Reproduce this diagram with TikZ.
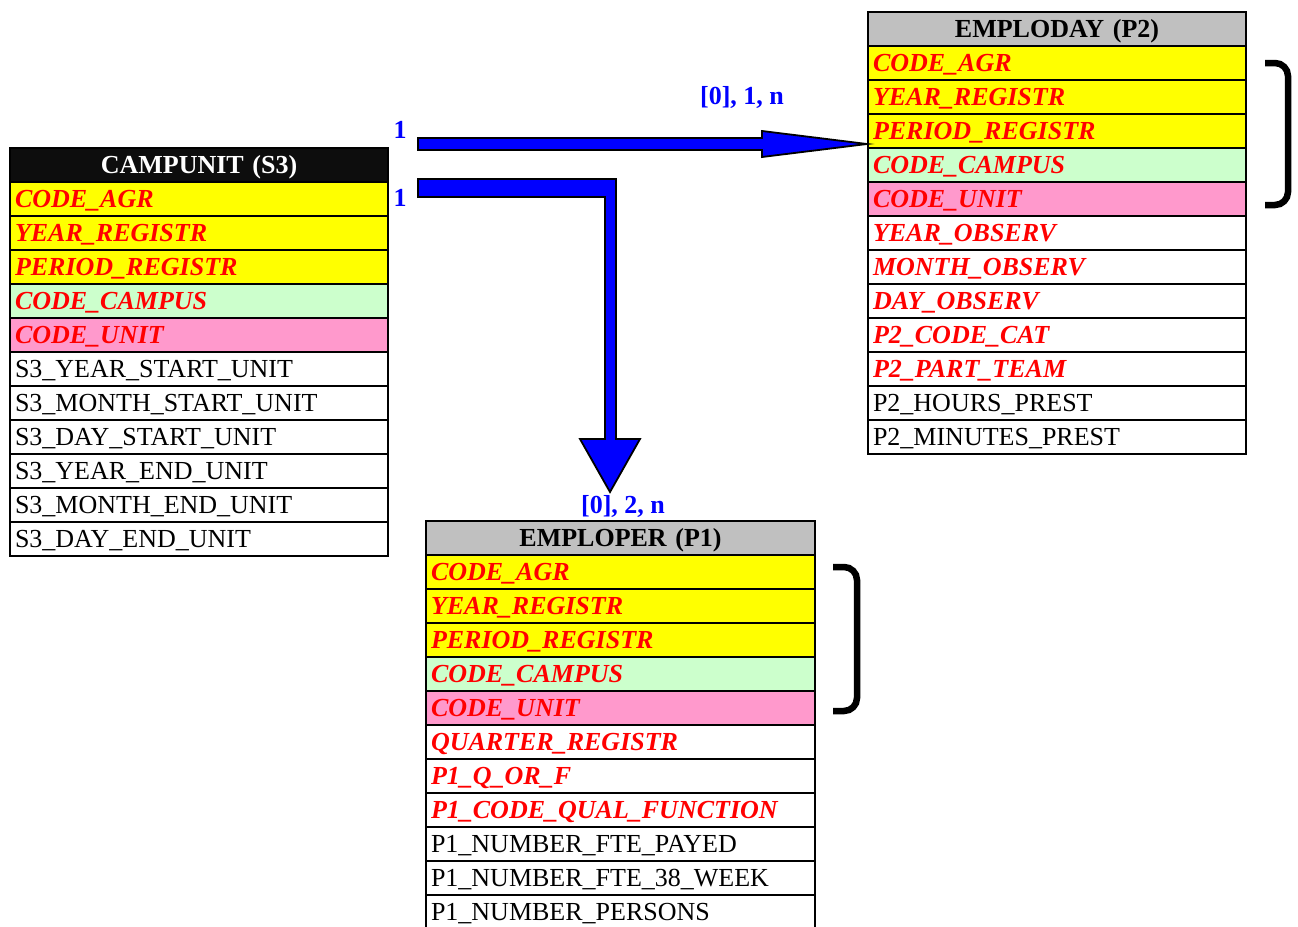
\documentclass[tikz,border=0pt]{standalone}
\usepackage{fontspec}
\setmainfont{Liberation Serif}
\definecolor{keyyellow}{HTML}{FFFF00}
\definecolor{keygreen}{HTML}{CCFFCC}
\definecolor{keypink}{HTML}{FF99CC}
\definecolor{headgray}{HTML}{C0C0C0}
\definecolor{headblack}{HTML}{0D0D0D}
\definecolor{keyred}{HTML}{FF0000}
\definecolor{linkblue}{HTML}{0000FF}
\tikzset{
  cell/.style={draw=black, line width=2.5pt, anchor=north west, inner xsep=5pt, inner ysep=0pt,
    outer sep=0pt, minimum height=34pt, text height=17pt, text depth=0pt, align=left,
    font=\fontsize{26}{30}\selectfont},
  w378/.style={text width=368pt},
  w389/.style={text width=379pt},
  keyrow/.style={cell, text=keyred, font=\fontsize{26}{30}\selectfont\bfseries\itshape},
  plainrow/.style={cell, fill=white, text=black},
  headrow/.style={cell, align=center, font=\fontsize{26}{30}\selectfont\bfseries},
  cardlabel/.style={text=linkblue, font=\fontsize{26}{30}\selectfont\bfseries, inner sep=0pt},
  blockarrow/.style={fill=linkblue, draw=black, line width=1.8pt, line join=miter},
  bracket/.style={draw=black, line width=6.5pt, rounded corners=13pt}
}
\begin{document}
\begin{tikzpicture}[x=1pt, y=-1pt]
\useasboundingbox (0,0) rectangle (1298,926);
\clip (0,0) rectangle (1298,926);
% CAMPUNIT (S3)
\node[headrow, w378, fill=headblack, text=white] (s3h) at (10,148) {CAMPUNIT (S3)};
\node[keyrow, w378, fill=keyyellow] (s3a) at (10,182) {CODE\_AGR};
\node[keyrow, w378, fill=keyyellow] (s3b) at (10,216) {YEAR\_REGISTR};
\node[keyrow, w378, fill=keyyellow] (s3c) at (10,250) {PERIOD\_REGISTR};
\node[keyrow, w378, fill=keygreen] (s3d) at (10,284) {CODE\_CAMPUS};
\node[keyrow, w378, fill=keypink] (s3e) at (10,318) {CODE\_UNIT};
\node[plainrow, w378] (s3f) at (10,352) {S3\_YEAR\_START\_UNIT};
\node[plainrow, w378] (s3g) at (10,386) {S3\_MONTH\_START\_UNIT};
\node[plainrow, w378] (s3i) at (10,420) {S3\_DAY\_START\_UNIT};
\node[plainrow, w378] (s3j) at (10,454) {S3\_YEAR\_END\_UNIT};
\node[plainrow, w378] (s3k) at (10,488) {S3\_MONTH\_END\_UNIT};
\node[plainrow, w378] (s3l) at (10,522) {S3\_DAY\_END\_UNIT};
% EMPLODAY (P2)
\node[headrow, w378, fill=headgray, text=black] (p2h) at (868,12) {EMPLODAY (P2)};
\node[keyrow, w378, fill=keyyellow] (p2a) at (868,46) {CODE\_AGR};
\node[keyrow, w378, fill=keyyellow] (p2b) at (868,80) {YEAR\_REGISTR};
\node[keyrow, w378, fill=keyyellow] (p2c) at (868,114) {PERIOD\_REGISTR};
\node[keyrow, w378, fill=keygreen] (p2d) at (868,148) {CODE\_CAMPUS};
\node[keyrow, w378, fill=keypink] (p2e) at (868,182) {CODE\_UNIT};
\node[keyrow, w378, fill=white] (p2f) at (868,216) {YEAR\_OBSERV};
\node[keyrow, w378, fill=white] (p2g) at (868,250) {MONTH\_OBSERV};
\node[keyrow, w378, fill=white] (p2i) at (868,284) {DAY\_OBSERV};
\node[keyrow, w378, fill=white] (p2j) at (868,318) {P2\_CODE\_CAT};
\node[keyrow, w378, fill=white] (p2k) at (868,352) {P2\_PART\_TEAM};
\node[plainrow, w378] (p2l) at (868,386) {P2\_HOURS\_PREST};
\node[plainrow, w378] (p2m) at (868,420) {P2\_MINUTES\_PREST};
% EMPLOPER (P1)
\node[headrow, w389, fill=headgray, text=black] (p1h) at (426,521) {EMPLOPER (P1)};
\node[keyrow, w389, fill=keyyellow] (p1a) at (426,555) {CODE\_AGR};
\node[keyrow, w389, fill=keyyellow] (p1b) at (426,589) {YEAR\_REGISTR};
\node[keyrow, w389, fill=keyyellow] (p1c) at (426,623) {PERIOD\_REGISTR};
\node[keyrow, w389, fill=keygreen] (p1d) at (426,657) {CODE\_CAMPUS};
\node[keyrow, w389, fill=keypink] (p1e) at (426,691) {CODE\_UNIT};
\node[keyrow, w389, fill=white] (p1f) at (426,725) {QUARTER\_REGISTR};
\node[keyrow, w389, fill=white] (p1g) at (426,759) {P1\_Q\_OR\_F};
\node[keyrow, w389, fill=white] (p1i) at (426,793) {P1\_CODE\_QUAL\_FUNCTION};
\node[plainrow, w389] (p1j) at (426,827) {P1\_NUMBER\_FTE\_PAYED};
\node[plainrow, w389] (p1k) at (426,861) {P1\_NUMBER\_FTE\_38\_WEEK};
\node[plainrow, w389] (p1l) at (426,895) {P1\_NUMBER\_PERSONS};
% block arrows
\coordinate (tipA) at (867,144);
\coordinate (tipB) at (610,492);
\draw[blockarrow] (418,138) -- (762,138) -- (762,131) -- (tipA) -- (762,157) -- (762,150) -- (418,150) -- cycle;
\draw[blockarrow] (418,179) -- (616,179) -- (616,439) -- (640,439) -- (tipB) -- (580,439) -- (605,439) -- (605,197) -- (418,197) -- cycle;
% cardinalities
\node[cardlabel] (l1) at (400,130) {1};
\node[cardlabel] (l2) at (400,198) {1};
\node[cardlabel] (l3) at (742,97) {[0], 1, n};
\node[cardlabel] (l4) at (623,506) {[0], 2, n};
% brackets
\draw[bracket] (1265,63) -- (1288,63) -- (1288,205) -- (1265,205);
\draw[bracket] (833,567) -- (857,567) -- (857,711) -- (833,711);
\end{tikzpicture}
\end{document}
